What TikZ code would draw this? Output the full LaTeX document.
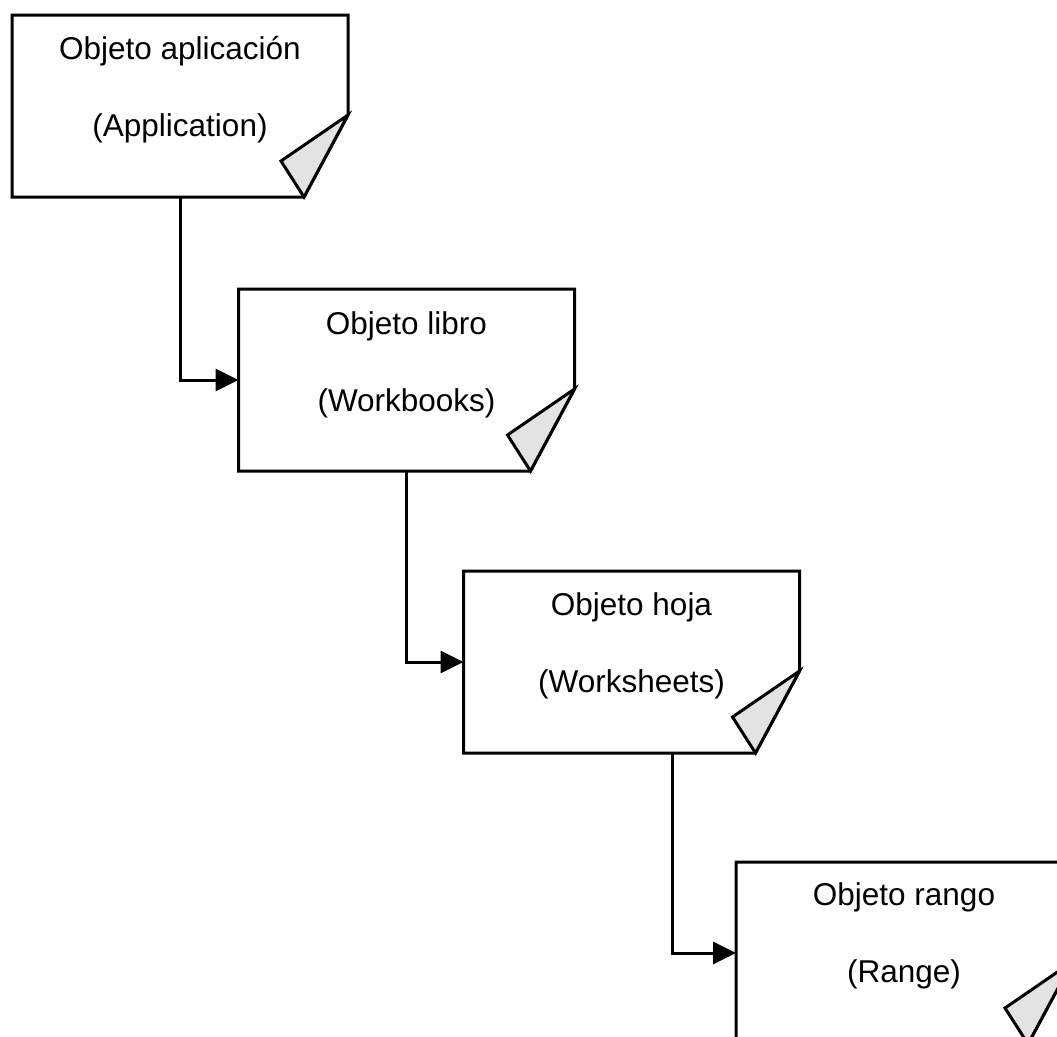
\documentclass[tikz,border=0pt]{standalone}
\usepackage{fontspec}
\setmainfont{Liberation Sans}
\usetikzlibrary{calc,arrows.meta}
\definecolor{foldgray}{RGB}{227,227,227}
\tikzset{
  page/.style={minimum width=336pt,minimum height=182pt,inner sep=0pt,outer sep=0pt},
  pageline/.style={line width=3pt,line join=miter},
  fold/.style={pageline,fill=foldgray},
  lbl/.style={align=center,anchor=base,inner sep=0pt,
    font=\fontsize{31.5pt}{77pt}\selectfont},
  conn/.style={line width=3pt,-{Triangle[length=23pt,width=22pt]}}
}
% outline of a sheet with a dog-eared lower right corner
\newcommand\foldedpage[1]{%
  \draw[pageline] (#1.north west) -- (#1.north east)
    -- ($(#1.north east)+(0,100)$) -- ($(#1.south east)+(-44,0)$)
    -- (#1.south west) -- cycle;
  \draw[fold] ($(#1.north east)+(0,100)$) -- ($(#1.south east)+(-67,-36)$)
    -- ($(#1.south east)+(-44,0)$) -- cycle;
}
\begin{document}
\begin{tikzpicture}[x=1pt,y=-1pt]
  \useasboundingbox (0,0) rectangle (1057,1036);
  \clip (0,0) rectangle (1057,1036);

  % sheets
  \node[page] (b1) at (180,106) {};
  \node[page] (b2) at (406.5,380) {};
  \node[page] (b3) at (631.5,662) {};
  \node[page] (b4) at (904,953) {};
  \foldedpage{b1}
  \foldedpage{b2}
  \foldedpage{b3}
  \foldedpage{b4}

  % labels (anchored on the baseline of the second line)
  \node[lbl] (t1) at ($(b1.north)+(0,121)$) {Objeto aplicación\\(Application)};
  \node[lbl] (t2) at ($(b2.north)+(0,122)$) {Objeto libro\\(Workbooks)};
  \node[lbl] (t3) at ($(b3.north)+(0,121)$) {Objeto hoja\\(Worksheets)};
  \node[lbl] (t4) at ($(b4.north)+(0,120)$) {Objeto rango\\(Range)};

  % hierarchy connectors
  \draw[conn] (b1.south) |- (b2.west);
  \draw[conn] (b2.south) |- (b3.west);
  \draw[conn] ([xshift=41pt]b3.south) |- (b4.west);
\end{tikzpicture}
\end{document}
